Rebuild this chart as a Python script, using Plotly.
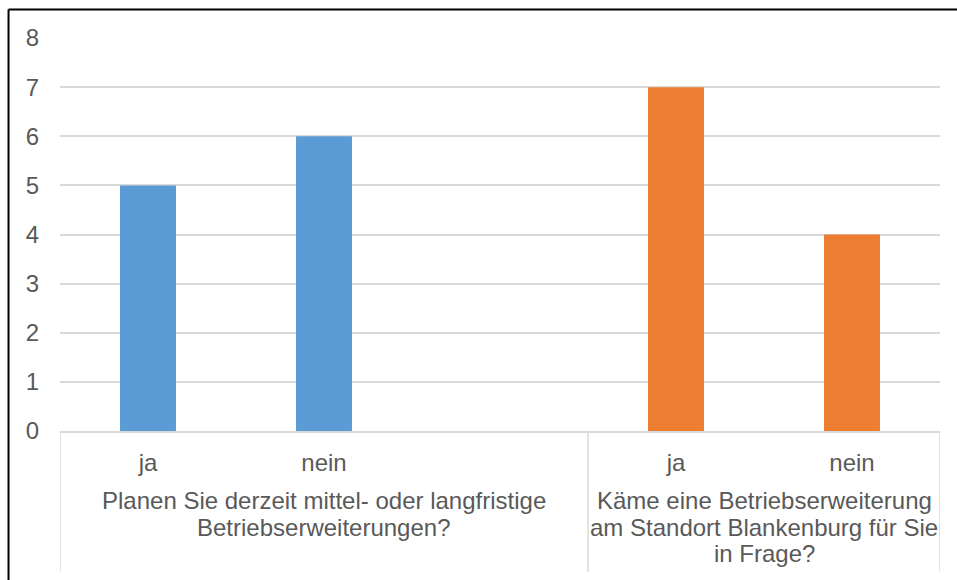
import plotly.graph_objects as go

# slots along the category axis (Excel kept a blank category in the first question)
slot_answers = ["ja", "nein", "", "ja", "nein"]
slot_group = [0, 0, 0, 1, 1]
group_labels = [
    ["Planen Sie derzeit mittel- oder langfristige", "Betriebserweiterungen?"],
    ["Käme eine Betriebserweiterung", "am Standort Blankenburg für Sie", "in Frage?"],
]
series_q1 = [5, 6, None, None, None]
series_q2 = [None, None, None, 7, 4]
y_ticks = [0, 1, 2, 3, 4, 5, 6, 7, 8]

blue = "#5b9bd5"
orange = "#ed7d31"
grid = "#d9d9d9"
text = "#595959"
font = "Liberation Sans, Arial, sans-serif"
fs = 24

# pixel helpers for layout (plot area y: 38 top .. 431 bottom)
plot_top, plot_bot = 38, 431
def py(p):
    return (plot_bot - p) / (plot_bot - plot_top)

xpos = list(range(len(slot_answers)))

fig = go.Figure()
for vals, col in [(series_q1, blue), (series_q2, orange)]:
    xs = [x for x, v in zip(xpos, vals) if v is not None]
    ys = [v for v in vals if v is not None]
    fig.add_trace(go.Bar(x=xs, y=ys, marker_color=col, marker_line_width=0, width=0.318))

tickvals = [x for x, a in zip(xpos, slot_answers) if a]
ticktext = [a for a in slot_answers if a]

fig.update_layout(
    width=957, height=580,
    margin=dict(l=60, r=17, t=38, b=149),
    paper_bgcolor="white", plot_bgcolor="white",
    barmode="overlay",
    showlegend=False,
    font=dict(family=font, size=fs, color=text),
    xaxis=dict(
        range=[-0.5, len(slot_answers) - 0.5],
        tickvals=tickvals, ticktext=ticktext,
        showline=True, linecolor=grid, linewidth=1.5,
        showgrid=False, zeroline=False, ticks="",
        tickfont=dict(family=font, size=fs, color=text),
        ticklabelstandoff=9,
    ),
    yaxis=dict(
        range=[0, 8], tickvals=y_ticks,
        showgrid=True, gridcolor=grid, gridwidth=1.5,
        zeroline=False, showline=False, ticks="",
        tickfont=dict(family=font, size=fs, color=text),
        ticklabelstandoff=20,
    ),
)

# group dividers and group labels
n_groups = len(group_labels)
bounds = []
for g in range(n_groups):
    idx = [i for i, s in enumerate(slot_group) if s == g]
    bounds.append((idx[0] - 0.5, idx[-1] + 0.5))

div_x = sorted(set([b for pair in bounds for b in pair]))
for dx in div_x:
    fig.add_shape(type="line", xref="x", yref="paper",
                  x0=dx, x1=dx, y0=0, y1=py(572),
                  line=dict(color=grid, width=1.5))

line_base = 509
line_step = 26.5
for (a, b), lines in zip(bounds, group_labels):
    for k, ln in enumerate(lines):
        fig.add_annotation(x=(a + b) / 2, xref="x", y=py(line_base + k * line_step - 8.5), yref="paper",
                           text=ln, showarrow=False, xanchor="center", yanchor="middle",
                           font=dict(family=font, size=fs, color=text))

# outer frame (top and left edges visible)
fig.add_shape(type="line", xref="paper", yref="paper",
              x0=-0.0585, x1=1.1, y0=py(9.5), y1=py(9.5),
              line=dict(color="black", width=2))
fig.add_shape(type="line", xref="paper", yref="paper",
              x0=-0.0585, x1=-0.0585, y0=py(9.5), y1=-0.5,
              line=dict(color="black", width=2))

fig.write_html("out.html")
